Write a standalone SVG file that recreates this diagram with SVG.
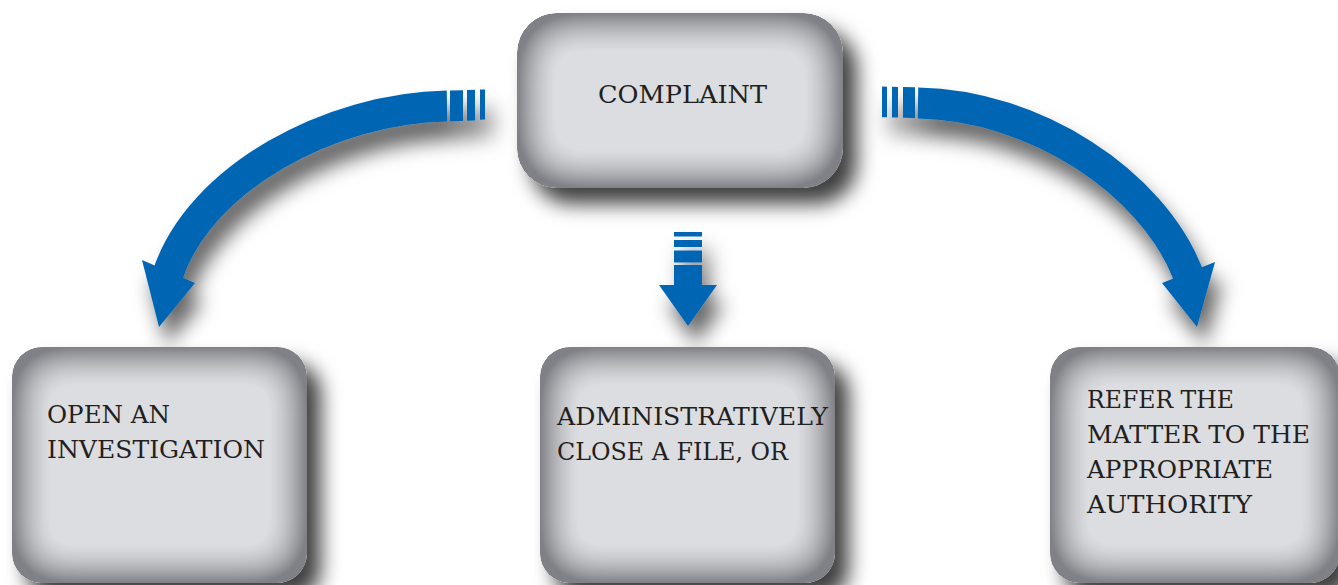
<svg xmlns="http://www.w3.org/2000/svg" width="1338" height="585" viewBox="0 0 1338 585">
  <defs>
    <style>
      .box { fill: #dcdde0; filter: url(#boxfx); }
      .lbl { font-family: 'DejaVu Serif', 'Liberation Serif', serif; font-size: 24.5px; fill: #231f20; }
      .arr { fill: #0066b3; }
      .band { fill: none; stroke: #0066b3; stroke-width: 31; stroke-linecap: butt; }
    </style>
    <filter id="boxfx" x="-20%" y="-20%" width="150%" height="160%" color-interpolation-filters="sRGB">
      <feGaussianBlur in="SourceAlpha" stdDeviation="24" result="b"/>
      <feComposite in="SourceAlpha" in2="b" operator="arithmetic" k2="2.2" k3="-2.2" k4="-0.1" result="edge"/>
      <feFlood flood-color="#808186" result="c"/>
      <feComposite in="c" in2="edge" operator="in" result="edgeC"/>
      <feGaussianBlur in="SourceAlpha" stdDeviation="10" result="sb"/>
      <feOffset in="sb" dx="14" dy="16" result="so"/>
      <feFlood flood-color="#000" flood-opacity="0.75"/>
      <feComposite in2="so" operator="in" result="shadow"/>
      <feMerge>
        <feMergeNode in="shadow"/>
        <feMergeNode in="SourceGraphic"/>
        <feMergeNode in="edgeC"/>
      </feMerge>
    </filter>
    <filter id="arrfx" x="-20%" y="-20%" width="150%" height="160%">
      <feDropShadow dx="8" dy="18" stdDeviation="10" flood-color="#000" flood-opacity="0.6"/>
    </filter>
  </defs>
  <rect width="1338" height="585" fill="#ffffff"/>

  <g id="connectors" filter="url(#arrfx)">
    <g id="arrow-left">
      <path class="band" d="M 447 106 C 330 108, 200 178, 168 274"/>
      <polygon class="arr" points="142,260 195,283 159,327"/>
      <polygon class="arr" points="450,90.5 463,90.2 463,121 450,121.5"/>
      <polygon class="arr" points="467,90 475,89.8 475,120.5 467,120.8"/>
      <polygon class="arr" points="480,89.6 485,89.4 485,119.6 480,119.8"/>
    </g>
    <g id="arrow-right">
      <path class="band" d="M 918 103 C 1035 105, 1152 182, 1188 274"/>
      <polygon class="arr" points="1162,283 1215,262 1197,327"/>
      <polygon class="arr" points="903,87 915,87.2 915,118 903,117.8"/>
      <polygon class="arr" points="892,86.8 898,86.9 898,117.6 892,117.5"/>
      <polygon class="arr" points="882,86.6 887,86.7 887,117.3 882,117.2"/>
    </g>
    <g id="arrow-down">
      <rect class="arr" x="674" y="232" width="28" height="4.5"/>
      <rect class="arr" x="674" y="240" width="28" height="7"/>
      <rect class="arr" x="674" y="250.5" width="28" height="12"/>
      <rect class="arr" x="674" y="265" width="28" height="22"/>
      <polygon class="arr" points="659,285 717,285 688,326"/>
    </g>
  </g>

  <g id="node-complaint">
    <rect class="box" x="517" y="13" width="326" height="175" rx="40" ry="40"/>
    <text class="lbl" x="598" y="103" textLength="169" lengthAdjust="spacingAndGlyphs">COMPLAINT</text>
  </g>

  <g id="node-open">
    <rect class="box" x="12" y="347" width="295" height="236" rx="30" ry="30"/>
    <text class="lbl" x="47" y="423" textLength="123" lengthAdjust="spacingAndGlyphs">OPEN AN</text>
    <text class="lbl" x="47" y="458" textLength="218" lengthAdjust="spacingAndGlyphs">INVESTIGATION</text>
  </g>

  <g id="node-close">
    <rect class="box" x="540" y="347" width="295" height="236" rx="30" ry="30"/>
    <text class="lbl" x="557" y="425" textLength="271" lengthAdjust="spacingAndGlyphs">ADMINISTRATIVELY</text>
    <text class="lbl" x="557" y="460" textLength="231" lengthAdjust="spacingAndGlyphs">CLOSE A FILE, OR</text>
  </g>

  <g id="node-refer">
    <rect class="box" x="1050" y="347" width="290" height="236" rx="30" ry="30"/>
    <text class="lbl" x="1087" y="408" textLength="147" lengthAdjust="spacingAndGlyphs">REFER THE</text>
    <text class="lbl" x="1087" y="443" textLength="223" lengthAdjust="spacingAndGlyphs">MATTER TO THE</text>
    <text class="lbl" x="1087" y="478" textLength="186" lengthAdjust="spacingAndGlyphs">APPROPRIATE</text>
    <text class="lbl" x="1087" y="513" textLength="165" lengthAdjust="spacingAndGlyphs">AUTHORITY</text>
  </g>
</svg>
